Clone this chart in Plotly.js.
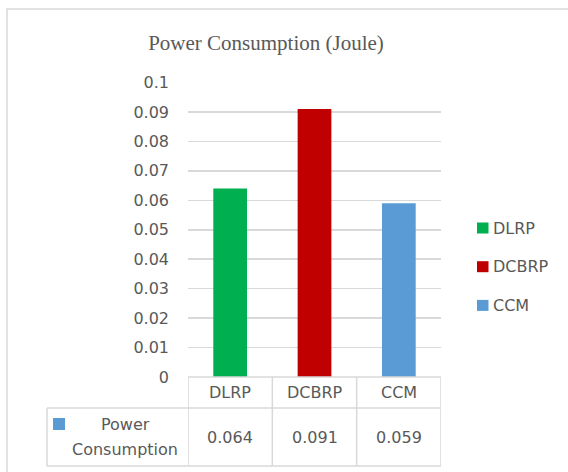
<!DOCTYPE html>
<html>
<head>
<meta charset="utf-8">
<script src="https://cdn.plot.ly/plotly-3.0.1.min.js"></script>
<style>
  html, body { margin: 0; padding: 0; background: #fff; }
  #chart { width: 568px; height: 472px; }
</style>
</head>
<body>
<div id="chart"></div>
<script>
// Chart data
const categories = ['DLRP', 'DCBRP', 'CCM'];
const powerConsumption = [0.064, 0.091, 0.059];
const seriesName = 'Power Consumption';
const yTickValues = [0, 0.01, 0.02, 0.03, 0.04, 0.05, 0.06, 0.07, 0.08, 0.09, 0.1];
const yTickLabels = ['0', '0.01', '0.02', '0.03', '0.04', '0.05', '0.06', '0.07', '0.08', '0.09', '0.1'];
const barColors = ['#00B050', '#C00000', '#5B9BD5'];
const seriesColor = '#5B9BD5';

// Page geometry (pixels)
const W = 568, H = 472;
const plotLeft = 188, plotRight = 441, plotTop = 82.5, plotBottom = 377;
const px = v => v / W;
const py = v => (H - v) / H;

const textColor = '#595959';
const lineColor = '#d9d9d9';
const sansFont = 'DejaVu Sans, sans-serif';

const shapes = [];
const annotations = [];

// Outer chart frame
shapes.push({ type: 'rect', xref: 'paper', yref: 'paper',
  x0: px(7), x1: px(W + 10), y0: py(9), y1: py(H + 10),
  line: { color: lineColor, width: 1.5 }, fillcolor: 'rgba(0,0,0,0)', layer: 'below' });

// Data table under the axis: horizontal rules
const tableHeaderBottom = 408, tableBottom = 466, tableLeft = 47;
shapes.push({ type: 'line', xref: 'paper', yref: 'paper',
  x0: px(tableLeft), x1: px(plotRight), y0: py(tableHeaderBottom), y1: py(tableHeaderBottom),
  line: { color: lineColor, width: 1.5 } });
shapes.push({ type: 'line', xref: 'paper', yref: 'paper',
  x0: px(tableLeft), x1: px(plotRight), y0: py(tableBottom), y1: py(tableBottom),
  line: { color: lineColor, width: 1.5 } });
shapes.push({ type: 'line', xref: 'paper', yref: 'paper',
  x0: px(tableLeft), x1: px(tableLeft), y0: py(tableHeaderBottom), y1: py(tableBottom),
  line: { color: lineColor, width: 1.5 } });
// Vertical rules on the category boundaries
for (let i = 0; i <= categories.length; i++) {
  shapes.push({ type: 'line', xref: 'x', yref: 'paper',
    x0: i - 0.5, x1: i - 0.5, y0: py(plotBottom), y1: py(tableBottom),
    line: { color: lineColor, width: 1.5 } });
}
// Table top rule (axis baseline)
shapes.push({ type: 'line', xref: 'x', yref: 'paper',
  x0: -0.5, x1: categories.length - 0.5, y0: py(plotBottom), y1: py(plotBottom),
  line: { color: lineColor, width: 1.5 } });

// Table cells: category header and values
categories.forEach((c, i) => {
  annotations.push({ xref: 'x', yref: 'paper', x: c, y: py(392), text: c,
    showarrow: false, xanchor: 'center', yanchor: 'middle',
    font: { family: sansFont, size: 16, color: textColor } });
  annotations.push({ xref: 'x', yref: 'paper', x: c, y: py(437), text: powerConsumption[i].toFixed(3),
    showarrow: false, xanchor: 'center', yanchor: 'middle',
    font: { family: sansFont, size: 16, color: textColor } });
});

// Series key in the table's row header
shapes.push({ type: 'rect', xref: 'paper', yref: 'paper',
  x0: px(53), x1: px(65), y0: py(430), y1: py(418),
  line: { width: 0 }, fillcolor: seriesColor });
const nameParts = seriesName.split(' ');
annotations.push({ xref: 'paper', yref: 'paper', x: px(125), y: py(424), text: nameParts[0],
  showarrow: false, xanchor: 'center', yanchor: 'middle',
  font: { family: sansFont, size: 16, color: textColor } });
annotations.push({ xref: 'paper', yref: 'paper', x: px(125), y: py(449), text: nameParts[1],
  showarrow: false, xanchor: 'center', yanchor: 'middle',
  font: { family: sansFont, size: 16, color: textColor } });

// Legend on the right
categories.forEach((c, i) => {
  const cy = 228 + 38.7 * i;
  shapes.push({ type: 'rect', xref: 'paper', yref: 'paper',
    x0: px(477), x1: px(488.5), y0: py(cy + 5.5), y1: py(cy - 5.5),
    line: { width: 0 }, fillcolor: barColors[i] });
  annotations.push({ xref: 'paper', yref: 'paper', x: px(491), y: py(cy), text: c,
    showarrow: false, xanchor: 'left', yanchor: 'middle',
    font: { family: sansFont, size: 16, color: textColor } });
});

const trace = {
  type: 'bar',
  x: categories,
  y: powerConsumption,
  name: seriesName,
  width: 0.4,
  marker: { color: barColors, line: { width: 0 } },
  showlegend: false,
  hoverinfo: 'x+y'
};

const layout = {
  width: W,
  height: H,
  margin: { l: 0, r: 0, t: 0, b: 0, pad: 0 },
  paper_bgcolor: '#ffffff',
  plot_bgcolor: 'rgba(0,0,0,0)',
  showlegend: false,
  title: {
    text: 'Power Consumption (Joule)',
    xref: 'paper', yref: 'paper',
    x: px(266), xanchor: 'center',
    y: py(43), yanchor: 'middle',
    font: { family: 'Liberation Serif, Times New Roman, serif', size: 21, color: textColor }
  },
  xaxis: {
    domain: [px(plotLeft), px(plotRight)],
    type: 'category',
    range: [-0.5, categories.length - 0.5],
    showticklabels: false,
    showgrid: false,
    zeroline: false,
    showline: false,
    ticks: ''
  },
  yaxis: {
    domain: [py(plotBottom), py(plotTop)],
    range: [0, 0.1],
    tickmode: 'array',
    tickvals: yTickValues,
    ticktext: yTickLabels,
    ticks: '',
    ticklabelstandoff: 18,
    showgrid: true,
    gridcolor: lineColor,
    gridwidth: 1.5,
    zeroline: false,
    showline: false,
    tickfont: { family: sansFont, size: 16, color: textColor }
  },
  shapes: shapes,
  annotations: annotations
};

Plotly.newPlot('chart', [trace], layout, { staticPlot: true, displayModeBar: false });
</script>
</body>
</html>
